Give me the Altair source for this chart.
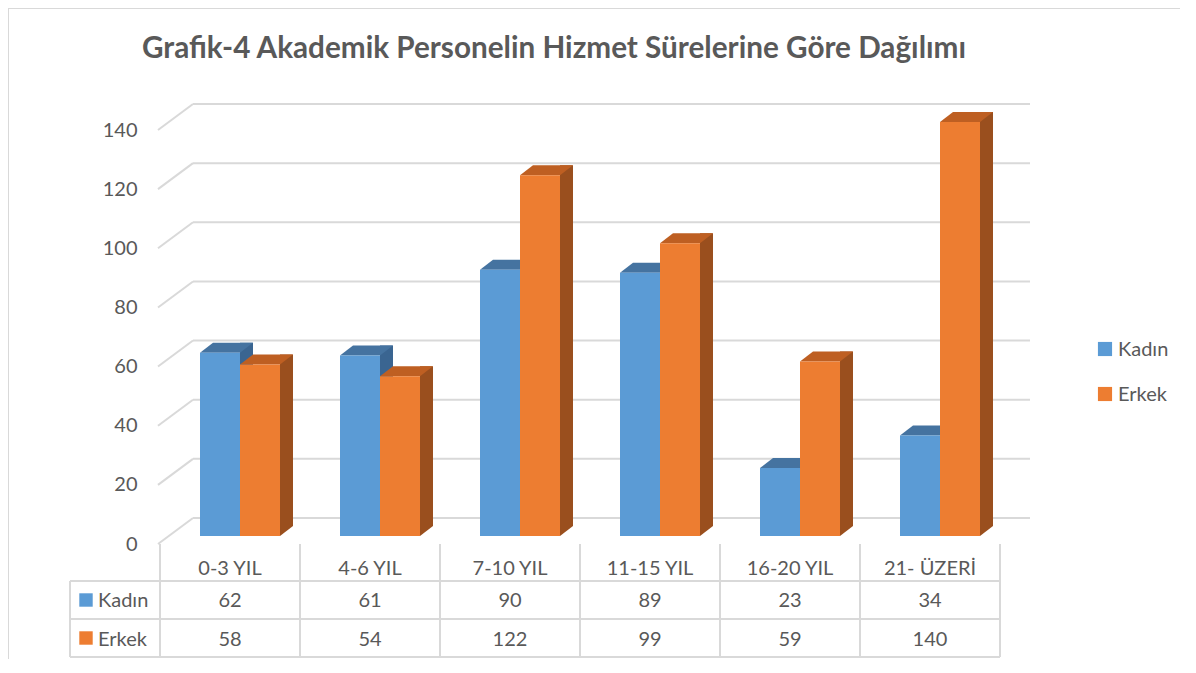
import altair as alt
import pandas as pd

# ---- data ----
categories = ["0-3 YIL", "4-6 YIL", "7-10 YIL", "11-15 YIL", "16-20 YIL", "21- ÜZERİ"]
series = ["Kadın", "Erkek"]
kadin = [62, 61, 90, 89, 23, 34]
erkek = [58, 54, 122, 99, 59, 140]
y_ticks = [0, 20, 40, 60, 80, 100, 120, 140]
title_text = "Grafik-4 Akademik Personelin Hizmet Sürelerine Göre Dağılımı"

# ---- styles ----
front_colors = ["#5B9BD5", "#ED7D31"]
top_colors = ["#4573A0", "#BE5F22"]
side_colors = ["#3A6591", "#9A4F1E"]
FONT = "Lato"
GRID = "#D9D9D9"
TEXT = "#595959"

rows = []
for c, k, e in zip(categories, kadin, erkek):
    rows.append({"cat": c, "series": "Kadın", "value": k})
    rows.append({"cat": c, "series": "Erkek", "value": e})
df = pd.DataFrame(rows)
df_k = df[df.series == "Kadın"]
df_e = df[df.series == "Erkek"]
df_cat = pd.DataFrame({"cat": categories})
df_ticks = pd.DataFrame({"t": y_ticks})
one = pd.DataFrame({"a": [0]})

xscale = alt.Scale(domain=categories, paddingInner=0, paddingOuter=0)
yscale = alt.Scale(domain=[0, 140], nice=False, zero=True)
y_axis = alt.Axis(values=y_ticks, domain=False, ticks=False, grid=False, labelPadding=23,
                  labelOffset=8, labelFont=FONT, labelFontSize=20, labelColor=TEXT, title=None)


def X():
    return alt.X("cat:N", sort=categories, scale=xscale, axis=None)


def Y(field="value:Q"):
    return alt.Y(field, scale=yscale, axis=y_axis, stack=None)


def offs(rng, pi=0.0):
    return alt.XOffset("series:N", sort=series,
                       scale=alt.Scale(type="band", domain=series, range=rng,
                                       paddingInner=pi, paddingOuter=0))


def offs_pt(rng):
    return alt.XOffset("series:N", sort=series,
                       scale=alt.Scale(type="point", domain=series, range=rng, padding=0))


def col(rng):
    return alt.Color("series:N", scale=alt.Scale(domain=series, range=rng), legend=None)


# gridlines on the back wall and the diagonal floor/side edges
back_grid = alt.Chart(df_ticks).mark_rule(color=GRID, strokeWidth=2, yOffset=-18).encode(
    y=Y("t:Q"), x=alt.value(33), x2=alt.value(870))
diag_grid = alt.Chart(df_ticks).mark_rule(color=GRID, strokeWidth=2, yOffset=8, y2Offset=-18).encode(
    y=Y("t:Q"), y2=alt.Y2("t:Q"), x=alt.value(-2), x2=alt.value(33))

# 3D bars: side faces, bottom triangles, top faces, front faces
side = alt.Chart(df).mark_bar(yOffset=-10, y2Offset=-10, opacity=1).encode(
    x=X(), xOffset=offs([80, 133], 0.675), y=Y(), y2=alt.datum(0), color=col(side_colors))
side_tri = alt.Chart(df).mark_point(shape="M40,0 L40,-10 L53,-10 Z", size=4, filled=True,
                                    opacity=1, strokeWidth=0).encode(
    x=X(), xOffset=offs_pt([40, 80]), y=alt.Y("zero:Q", scale=yscale, axis=y_axis),
    color=col(side_colors)).transform_calculate(zero="0")
top = alt.Chart(df).mark_point(shape="M0,0 L40,0 L53,-10 L13,-10 Z", size=4, filled=True,
                               opacity=1, strokeWidth=0).encode(
    x=X(), xOffset=offs_pt([40, 80]), y=Y(), color=col(top_colors))
front = alt.Chart(df).mark_bar(opacity=1).encode(
    x=X(), xOffset=offs([40, 120]), y=Y(), color=col(front_colors))

# title
title = alt.Chart(one).mark_text(text=title_text, font=FONT, fontSize=29.7, fontWeight="bold",
                                 color=TEXT, align="center", baseline="alphabetic").encode(
    x=alt.value(394), y=alt.value(-64))

# legend (right)
leg_sq_k = alt.Chart(one).mark_square(size=200, color=front_colors[0], opacity=1).encode(
    x=alt.value(945), y=alt.value(227))
leg_sq_e = alt.Chart(one).mark_square(size=200, color=front_colors[1], opacity=1).encode(
    x=alt.value(945), y=alt.value(272))
leg_tx_k = alt.Chart(one).mark_text(text=series[0], font=FONT, fontSize=20, color=TEXT,
                                    align="left", baseline="alphabetic").encode(
    x=alt.value(958), y=alt.value(234))
leg_tx_e = alt.Chart(one).mark_text(text=series[1], font=FONT, fontSize=20, color=TEXT,
                                    align="left", baseline="alphabetic").encode(
    x=alt.value(958), y=alt.value(279))


# data table below the chart
def hrule(yv, x0=-90, x1=840):
    return alt.Chart(one).mark_rule(color=GRID, strokeWidth=2).encode(
        x=alt.value(x0), x2=alt.value(x1), y=alt.value(yv))


vlines = alt.Chart(df_cat).mark_rule(color=GRID, strokeWidth=2).encode(
    x=alt.X("cat:N", sort=categories, scale=xscale, axis=None, bandPosition=0),
    y=alt.value(422), y2=alt.value(535))
vline_end = alt.Chart(one).mark_rule(color=GRID, strokeWidth=2).encode(
    x=alt.value(840), y=alt.value(422), y2=alt.value(535))
vline_left = alt.Chart(one).mark_rule(color=GRID, strokeWidth=2).encode(
    x=alt.value(-90), y=alt.value(459), y2=alt.value(535))

cat_text = alt.Chart(df_cat).mark_text(font=FONT, fontSize=20, color=TEXT, baseline="alphabetic").encode(
    x=X(), y=alt.value(453), text="cat:N")
k_text = alt.Chart(df_k).mark_text(font=FONT, fontSize=20, color=TEXT, baseline="alphabetic").encode(
    x=X(), y=alt.value(485), text="value:Q")
e_text = alt.Chart(df_e).mark_text(font=FONT, fontSize=20, color=TEXT, baseline="alphabetic").encode(
    x=X(), y=alt.value(523.5), text="value:Q")
row_sq_k = alt.Chart(one).mark_square(size=180, color=front_colors[0], opacity=1).encode(
    x=alt.value(-74), y=alt.value(478))
row_sq_e = alt.Chart(one).mark_square(size=180, color=front_colors[1], opacity=1).encode(
    x=alt.value(-74), y=alt.value(516))
row_tx_k = alt.Chart(one).mark_text(text=series[0], font=FONT, fontSize=20, color=TEXT,
                                    align="left", baseline="alphabetic").encode(
    x=alt.value(-62), y=alt.value(485))
row_tx_e = alt.Chart(one).mark_text(text=series[1], font=FONT, fontSize=20, color=TEXT,
                                    align="left", baseline="alphabetic").encode(
    x=alt.value(-62), y=alt.value(523.5))

# outer chart border (left and top edges visible)
border_l = alt.Chart(one).mark_rule(color=GRID, strokeWidth=1).encode(
    x=alt.value(-151.5), y=alt.value(-114), y2=alt.value(540))
border_t = alt.Chart(one).mark_rule(color=GRID, strokeWidth=1).encode(
    x=alt.value(-152), x2=alt.value(1030), y=alt.value(-113.5))

chart = alt.layer(
    back_grid, diag_grid, side, side_tri, top, front,
    title, leg_sq_k, leg_sq_e, leg_tx_k, leg_tx_e,
    hrule(459), hrule(497), hrule(535), vlines, vline_end, vline_left,
    cat_text, k_text, e_text, row_sq_k, row_sq_e, row_tx_k, row_tx_e,
    border_l, border_t,
).resolve_scale(
    xOffset="independent", color="independent"
).properties(
    width=840, height=414,
    padding={"left": 152, "top": 114, "right": 180, "bottom": 123},
    autosize=alt.AutoSizeParams(type="none"),
).configure_view(stroke=None)

chart.save("out.html", embed_options={"renderer": "svg", "actions": False})
